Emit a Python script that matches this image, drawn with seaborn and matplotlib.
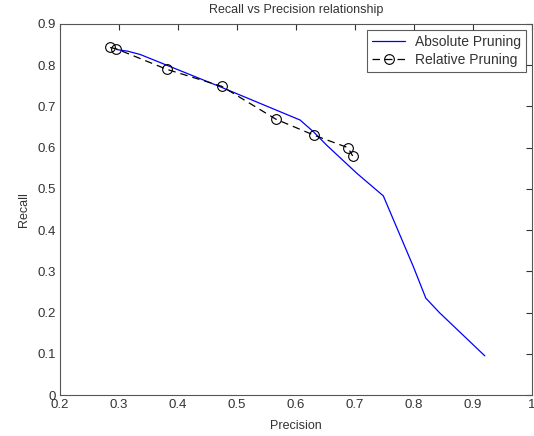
import numpy as np
import pandas as pd
import matplotlib
matplotlib.use('Agg')
import matplotlib.pyplot as plt
import seaborn as sns
from matplotlib.ticker import FormatStrFormatter

# values
abs_precision = [0.296, 0.315, 0.336, 0.471, 0.607, 0.630, 0.652, 0.703, 0.748,
                 0.799, 0.820, 0.843, 0.898, 0.920]
abs_recall = [0.838, 0.834, 0.826, 0.748, 0.667, 0.638, 0.606, 0.538, 0.483,
              0.311, 0.235, 0.200, 0.125, 0.095]

rel_precision = [0.285, 0.295, 0.381, 0.474, 0.566, 0.631, 0.688, 0.696]
rel_recall = [0.843, 0.840, 0.790, 0.749, 0.669, 0.630, 0.600, 0.580]

x_ticks = [0.2, 0.3, 0.4, 0.5, 0.6, 0.7, 0.8, 0.9, 1.0]
y_ticks = [0, 0.1, 0.2, 0.3, 0.4, 0.5, 0.6, 0.7, 0.8, 0.9]

sns.set_theme(style='white')
plt.rcParams['font.family'] = ['Liberation Sans', 'DejaVu Sans']
text_col = '#333333'

abs_df = pd.DataFrame({'Precision': abs_precision, 'Recall': abs_recall})
rel_df = pd.DataFrame({'Precision': rel_precision, 'Recall': rel_recall})

fig = plt.figure(figsize=(5.34, 4.36), dpi=100)
ax = fig.add_axes([60 / 534, 41 / 436, 472 / 534, 371 / 436])

sns.lineplot(data=abs_df, x='Precision', y='Recall', ax=ax, sort=False,
             estimator=None, color='#0000ff', linewidth=0.9,
             label='Absolute Pruning')
sns.lineplot(data=rel_df, x='Precision', y='Recall', ax=ax, sort=False,
             estimator=None, color='black', linewidth=0.9, linestyle=(0, (6, 4)),
             marker='o', markersize=7, markerfacecolor='none',
             markeredgecolor='black', markeredgewidth=0.8,
             label='Relative Pruning')

ax.set_xlim(0.2, 1.0)
ax.set_ylim(0, 0.9)
ax.set_xticks(x_ticks)
ax.set_yticks(y_ticks)
ax.xaxis.set_major_formatter(FormatStrFormatter('%g'))
ax.yaxis.set_major_formatter(FormatStrFormatter('%g'))
ax.tick_params(direction='in', length=4, width=0.8, top=True, right=True,
               labelsize=9.5, colors=text_col)
ax.tick_params(axis='x', pad=3)
ax.tick_params(axis='y', pad=3)
for side in ax.spines.values():
    side.set_color('#555555')
    side.set_linewidth(0.8)
    side.set_visible(True)

ax.set_xlabel('Precision', fontsize=9, color=text_col, labelpad=6)
ax.set_ylabel('Recall', fontsize=9, color=text_col, labelpad=5)
ax.set_title('Recall vs Precision relationship', fontsize=9, color=text_col, pad=8)

leg = ax.legend(loc='upper right', fontsize=10, frameon=True, fancybox=False,
                borderaxespad=0.45, handlelength=2.4, handletextpad=0.7,
                labelspacing=0.3, borderpad=0.35)
leg.get_frame().set_edgecolor('#333333')
leg.get_frame().set_linewidth(0.8)
for t in leg.get_texts():
    t.set_color(text_col)

fig.savefig('out.png', dpi=100)
